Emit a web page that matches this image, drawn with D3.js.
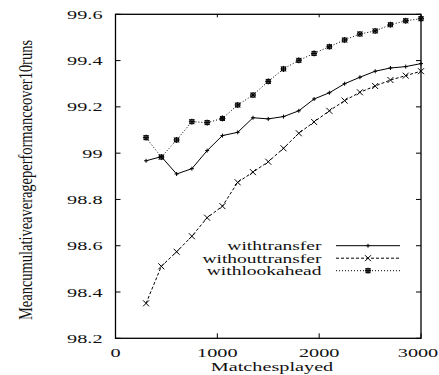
<!DOCTYPE html>
<html>
<head>
<meta charset="utf-8">
<script src="https://cdn.jsdelivr.net/npm/d3@7"></script>
<style>
  body { margin: 0; background: #fff; }
  text { font-family: "Liberation Serif", "Times New Roman", serif; fill: #111; }
</style>
</head>
<body>
<script>
// matches played (x positions of every point)
const matches = [300, 450, 600, 750, 900, 1050, 1200, 1350, 1500, 1650, 1800, 1950, 2100, 2250, 2400, 2550, 2700, 2850, 3000];

// mean cumulative average performance
const withTransfer = [98.967, 98.985, 98.91, 98.933, 99.011, 99.076, 99.09, 99.153, 99.148, 99.158, 99.183, 99.234, 99.261, 99.30, 99.328, 99.354, 99.368, 99.374, 99.387];
const withoutTransfer = [98.351, 98.511, 98.574, 98.641, 98.721, 98.771, 98.874, 98.918, 98.963, 99.021, 99.086, 99.135, 99.183, 99.227, 99.263, 99.29, 99.316, 99.335, 99.354];
const withLookahead = [99.067, 98.983, 99.057, 99.136, 99.132, 99.15, 99.208, 99.251, 99.31, 99.364, 99.401, 99.431, 99.46, 99.489, 99.515, 99.528, 99.555, 99.572, 99.581];

const seriesNames = ['withtransfer', 'withouttransfer', 'withlookahead'];
const xTicks = [0, 1000, 2000, 3000];
const yTicks = [98.2, 98.4, 98.6, 98.8, 99, 99.2, 99.4, 99.6];

const width = 439, height = 375;
const plotLeft = 115.5, plotRight = 421, plotTop = 14.3, plotBottom = 338.3;
const stretch = 1.5; // the original figure is stretched sideways

const x = d3.scaleLinear().domain([0, 3000]).range([plotLeft, plotRight]);
const y = d3.scaleLinear().domain([98.2, 99.6]).range([plotBottom, plotTop]);

const svg = d3.select('body').append('svg')
  .attr('width', width)
  .attr('height', height);

// stretched text helper
function label(px, py, str, anchor, size) {
  return svg.append('text')
    .attr('transform', `translate(${px},${py}) scale(${stretch},1)`)
    .attr('text-anchor', anchor)
    .style('font-size', (size || 13.5) + 'px')
    .text(str);
}

// frame
svg.append('rect')
  .attr('x', plotLeft).attr('y', plotTop)
  .attr('width', plotRight - plotLeft).attr('height', plotBottom - plotTop)
  .attr('fill', 'none').attr('stroke', '#000').attr('stroke-width', 1.3);

// ticks on all four sides, pointing inward
const tl = 5;
yTicks.forEach(function(v) {
  svg.append('line').attr('x1', plotLeft).attr('x2', plotLeft + tl).attr('y1', y(v)).attr('y2', y(v)).attr('stroke', '#000');
  svg.append('line').attr('x1', plotRight).attr('x2', plotRight - tl).attr('y1', y(v)).attr('y2', y(v)).attr('stroke', '#000');
  label(plotLeft - 13, y(v) + 4.5, String(+v.toFixed(1)), 'end');
});
xTicks.forEach(function(v) {
  svg.append('line').attr('x1', x(v)).attr('x2', x(v)).attr('y1', plotBottom).attr('y2', plotBottom - tl).attr('stroke', '#000');
  svg.append('line').attr('x1', x(v)).attr('x2', x(v)).attr('y1', plotTop).attr('y2', plotTop + 3).attr('stroke', '#000');
  label(Math.min(x(v), 418), 357, String(v), 'middle');
});

// axis titles
label(272, 371, 'Matchesplayed', 'middle');
svg.append('text')
  .attr('transform', `translate(32,180) scale(${stretch},1) rotate(-90)`)
  .attr('text-anchor', 'middle')
  .attr('textLength', 280)
  .attr('lengthAdjust', 'spacingAndGlyphs')
  .style('font-size', '12px')
  .text('Meancumulativeaverageperformanceover10runs');

// markers
const plus = 'M-2,0H2M0,-2V2';
const cross = 'M-3,-3L3,3M-3,3L3,-3';
const star = 'M-3,0H3M0,-3V3M-2.5,-2.5L2.5,2.5M-2.5,2.5L2.5,-2.5M-2,-2H2V2H-2Z';

const series = [
  { name: seriesNames[0], values: withTransfer, dash: null, marker: plus },
  { name: seriesNames[1], values: withoutTransfer, dash: '3,2', marker: cross },
  { name: seriesNames[2], values: withLookahead, dash: '1,2', marker: star }
];

const line = d3.line()
  .x(function(d) { return x(d[0]); })
  .y(function(d) { return y(d[1]); });

series.forEach(function(s, i) {
  const pts = matches.map(function(m, j) { return [m, s.values[j]]; });
  svg.append('path')
    .datum(pts)
    .attr('d', line)
    .attr('fill', 'none')
    .attr('stroke', '#000')
    .attr('stroke-width', 1)
    .attr('stroke-dasharray', s.dash);
  svg.selectAll('.m' + i)
    .data(pts)
    .enter()
    .append('path')
    .attr('class', 'm' + i)
    .attr('transform', function(d) { return `translate(${x(d[0])},${y(d[1])})`; })
    .attr('d', s.marker)
    .attr('fill', 'none')
    .attr('stroke', '#000')
    .attr('stroke-width', 1);

  // legend
  const ly = 245.7 + i * 12.5;
  label(321.5, ly + 4.5, s.name, 'end', 13);
  svg.append('line')
    .attr('x1', 336).attr('x2', 400).attr('y1', ly).attr('y2', ly)
    .attr('stroke', '#000').attr('stroke-dasharray', s.dash);
  svg.append('path')
    .attr('transform', `translate(368,${ly})`)
    .attr('d', s.marker)
    .attr('fill', 'none').attr('stroke', '#000');
});
</script>
</body>
</html>
